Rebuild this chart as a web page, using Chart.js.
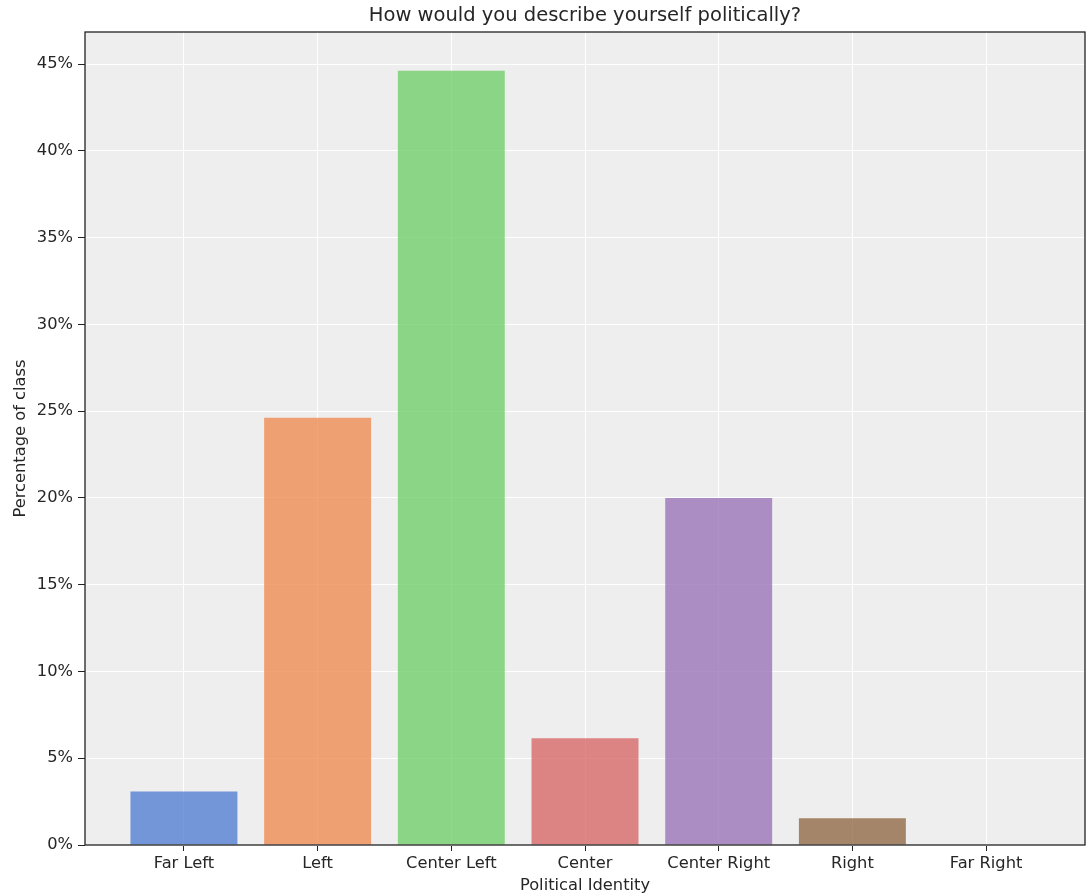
<!DOCTYPE html>
<html>
<head>
<meta charset="utf-8">
<script src="https://cdn.jsdelivr.net/npm/chart.js@4.4.1/dist/chart.umd.min.js"></script>
<style>
  html, body { margin: 0; padding: 0; background: #fff; }
  #wrap { width: 1089px; height: 896px; }
</style>
</head>
<body>
<div id="wrap"><canvas id="chart" width="1089" height="896"></canvas></div>
<script>
// Data
const categories = ['Far Left', 'Left', 'Center Left', 'Center', 'Center Right', 'Right', 'Far Right'];
const percents = [3.08, 24.62, 44.62, 6.15, 20.0, 1.54, 0];
const barColors = ['#4878d0', '#ee854a', '#6acc64', '#d65f5f', '#956cb4', '#8c613c', '#dc7ec0'];

const textColor = '#262626';
const fontFamily = '"DejaVu Sans", sans-serif';

function withAlpha(hex, a) {
    const n = parseInt(hex.slice(1), 16);
    return 'rgba(' + (n >> 16) + ',' + ((n >> 8) & 255) + ',' + (n & 255) + ',' + a + ')';
}

// Gray plot background and a dark frame, like the matplotlib axes
const frame = {
    id: 'frame',
    beforeDraw(chart) {
        const a = chart.chartArea, ctx = chart.ctx;
        ctx.save();
        ctx.fillStyle = '#eeeeee';
        ctx.fillRect(a.left, a.top, a.right - a.left, a.bottom - a.top);
        ctx.restore();
    },
    afterDraw(chart) {
        const a = chart.chartArea, ctx = chart.ctx;
        ctx.save();
        ctx.strokeStyle = '#222';
        ctx.lineWidth = 1.3;
        ctx.strokeRect(a.left, a.top, a.right - a.left, a.bottom - a.top);
        ctx.restore();
    }
};

new Chart(document.getElementById('chart'), {
    type: 'bar',
    data: {
        datasets: [{
            data: percents.map((v, i) => ({ x: i, y: v })),
            backgroundColor: barColors.map(c => withAlpha(c, 0.75)),
            borderWidth: 0,
            barPercentage: 0.8,
            categoryPercentage: 1.0
        }]
    },
    options: {
        responsive: false,
        animation: false,
        layout: { padding: { left: 0, right: 4, top: 0, bottom: 0 } },
        plugins: {
            legend: { display: false },
            tooltip: { enabled: false },
            title: {
                display: true,
                fullSize: false,
                text: 'How would you describe yourself politically?',
                color: textColor,
                font: { family: fontFamily, size: 19.5, weight: 'normal' },
                padding: { top: 4, bottom: 4.6 }
            }
        },
        scales: {
            x: {
                type: 'linear',
                min: -0.74,
                max: 6.74,
                offset: false,
                afterBuildTicks: s => { s.ticks = categories.map((c, i) => ({ value: i })); },
                afterFit: s => { s.height = 51; },
                ticks: {
                    callback: v => categories[v],
                    color: textColor,
                    font: { family: fontFamily, size: 16.3 },
                    padding: 3,
                    maxRotation: 0,
                    autoSkip: false
                },
                grid: { color: '#ffffff', lineWidth: 1, offset: false, tickColor: '#222', tickLength: 6 },
                border: { display: false },
                title: {
                    display: true,
                    text: 'Political Identity',
                    color: textColor,
                    font: { family: fontFamily, size: 16.3 },
                    padding: { top: 0, bottom: 0 }
                }
            },
            y: {
                min: 0,
                max: 46.85,
                afterFit: s => { s.width = 85; },
                ticks: {
                    stepSize: 5,
                    includeBounds: false,
                    callback: v => v + '%',
                    color: textColor,
                    font: { family: fontFamily, size: 16.3 },
                    padding: 5
                },
                grid: { color: '#ffffff', lineWidth: 1, tickColor: '#222', tickLength: 7 },
                border: { display: false },
                title: {
                    display: true,
                    text: 'Percentage of class',
                    color: textColor,
                    font: { family: fontFamily, size: 16.3 },
                    padding: { top: 11, bottom: 0 }
                }
            }
        }
    },
    plugins: [frame]
});
</script>
</body>
</html>
